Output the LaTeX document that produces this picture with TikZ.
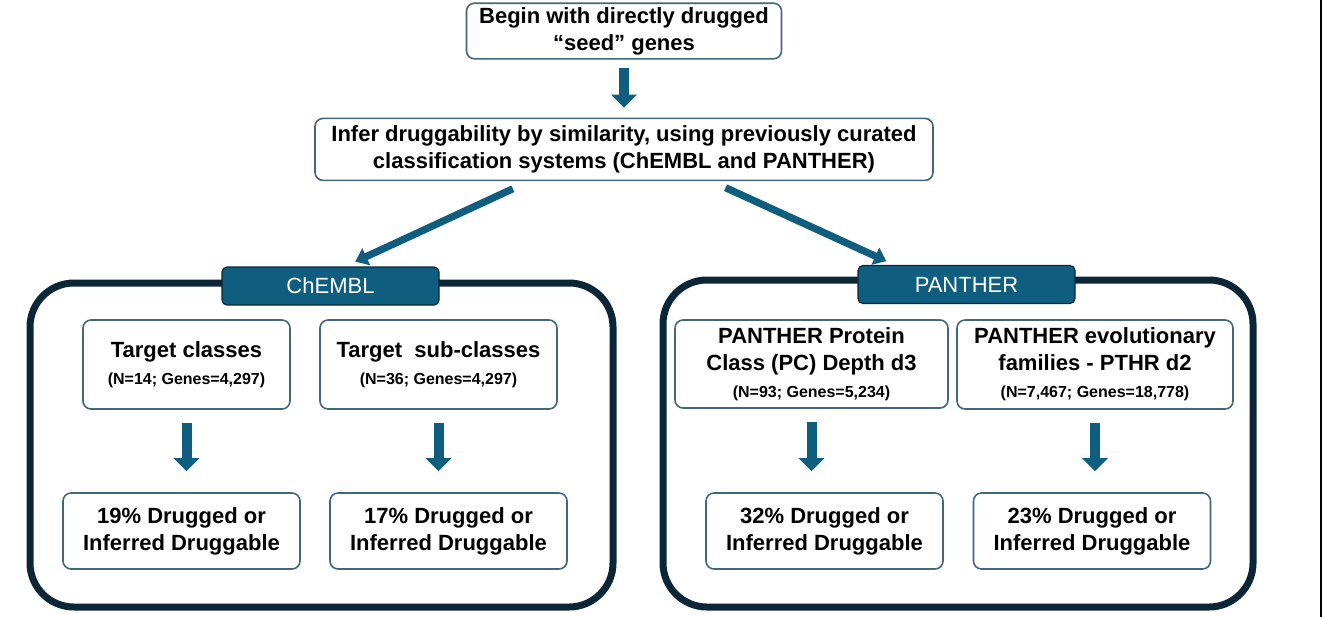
\documentclass[tikz,border=0pt]{standalone}
\usepackage{fontspec}
\setmainfont{Liberation Sans}
\usetikzlibrary{arrows.meta,positioning,calc}

\definecolor{tealfill}{HTML}{0F5E7F}
\definecolor{navyline}{HTML}{0B2637}
\definecolor{boxline}{HTML}{41687A}
\newcommand{\genecount}[1]{{\fontsize{8}{10}\selectfont #1}}

\begin{document}
\begin{tikzpicture}[
  x=0.5pt, y=-0.5pt,
  box/.style={rectangle, rounded corners=4pt, draw=boxline, line width=0.8pt, fill=white, align=center, inner sep=2pt, font=\fontsize{11}{13.5}\selectfont\bfseries},
  tab/.style={rectangle, rounded corners=2.5pt, draw=navyline, line width=0.6pt, fill=tealfill, text=white, minimum width=108.5pt, minimum height=19pt, font=\fontsize{11}{13}\selectfont},
  group/.style={rectangle, rounded corners=22pt, draw=navyline, line width=3.5pt},
  blockarrow/.style={draw=tealfill, line width=5pt, -{Triangle[width=12.5pt,length=6.5pt]}},
  slantarrow/.style={draw=tealfill, line width=3.6pt, -{Triangle[width=9pt,length=6pt]}},
]
  \useasboundingbox (0,0) rectangle (1325,617);

  \node[box, minimum width=157.5pt, minimum height=24pt] (seed) at (624,31) {Begin with directly drugged\\“seed” genes};
  \node[box, minimum width=309pt, minimum height=31pt, below=29pt of seed] (infer) {Infer druggability by similarity, using previously curated\\classification systems (ChEMBL and PANTHER)};

  % two groups
  \node[group, minimum width=291.5pt, minimum height=162pt] (chemblgroup) at (321.5,445) {};
  \node[group, minimum width=295pt, minimum height=163.5pt] (panthergroup) at (958,443.5) {};
  \node[tab] (chembl) at (330.5,286) {ChEMBL};
  \node[tab] (panther) at (966.5,284.5) {PANTHER};

  \node[box, minimum width=103.5pt, minimum height=44.5pt] (tclass) at (186.5,364.5) {Target classes\\\genecount{(N=14; Genes=4,297)}};
  \node[box, minimum width=118.5pt, minimum height=44.5pt] (tsub) at (438.5,364.5) {Target\ \ sub-classes\\\genecount{(N=36; Genes=4,297)}};
  \node[box, minimum width=136.5pt, minimum height=44pt] (pclass) at (811.5,364) {PANTHER Protein\\Class (PC) Depth d3\\\genecount{(N=93; Genes=5,234)}};
  \node[box, minimum width=138pt, minimum height=44.5pt] (pfam) at (1095,364.5) {PANTHER evolutionary\\families - PTHR d2\\\genecount{(N=7,467; Genes=18,778)}};

  \node[box, minimum width=118.5pt, minimum height=38pt] (tclassres) at (181.5,531) {19\% Drugged or\\Inferred Druggable};
  \node[box, minimum width=118.5pt, minimum height=38pt] (tsubres) at (448.5,531) {17\% Drugged or\\Inferred Druggable};
  \node[box, minimum width=118.5pt, minimum height=38pt] (pclassres) at (824.5,531) {32\% Drugged or\\Inferred Druggable};
  \node[box, minimum width=118.5pt, minimum height=38pt] (pfamres) at (1092,531) {23\% Drugged or\\Inferred Druggable};

  % arrows
  \draw[blockarrow, shorten <=4pt, shorten >=5pt] (seed.south) -- (seed.south |- infer.north);
  \draw[slantarrow, shorten <=9pt, shorten >=5.6pt] ($(infer.south west)!0.347!(infer.south east)$) -- ($(chembl.north west)!0.567!(chembl.north east)$);
  \draw[slantarrow, shorten <=7.8pt, shorten >=4.5pt] ($(infer.south west)!0.641!(infer.south east)$) -- ($(panther.north west)!0.17!(panther.north east)$);
  \foreach \src/\dst in {tclass/tclassres, tsub/tsubres, pclass/pclassres, pfam/pfamres}
    \draw[blockarrow, shorten <=6.5pt, shorten >=10.5pt] (\src.south) -- (\src.south |- \dst.north);

  \draw[line width=0.6pt] (1321,0) -- (1321,617);
\end{tikzpicture}
\end{document}
